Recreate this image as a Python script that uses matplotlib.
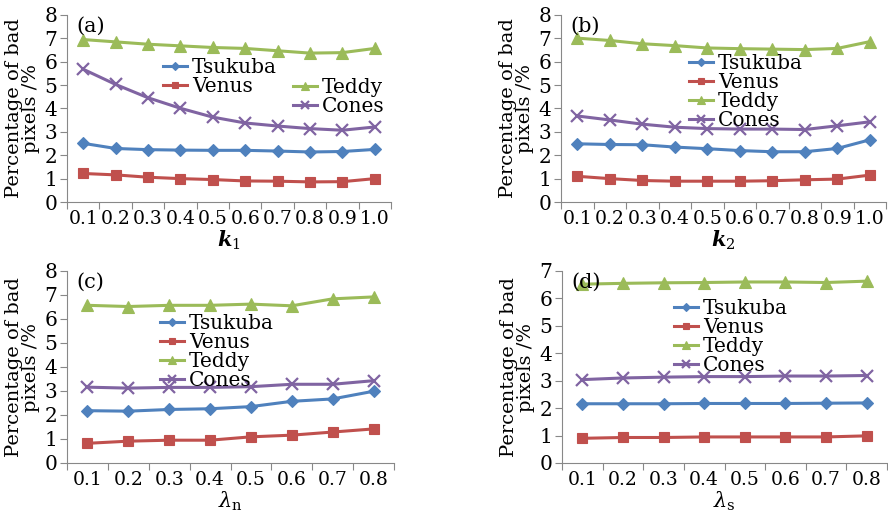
import matplotlib
matplotlib.use("Agg")
import matplotlib.pyplot as plt
import numpy as np

plt.rcParams['font.family'] = ['DejaVu Serif']
plt.rcParams['mathtext.fontset'] = 'dejavuserif'

series = ["Tsukuba", "Venus", "Teddy", "Cones"]

k_labels = ["0.1", "0.2", "0.3", "0.4", "0.5", "0.6", "0.7", "0.8", "0.9", "1.0"]
lam_labels = ["0.1", "0.2", "0.3", "0.4", "0.5", "0.6", "0.7", "0.8"]

a_tsukuba = [2.51, 2.29, 2.24, 2.22, 2.21, 2.21, 2.18, 2.14, 2.16, 2.25]
a_venus = [1.22, 1.16, 1.06, 1.00, 0.96, 0.90, 0.89, 0.86, 0.87, 1.00]
a_teddy = [6.95, 6.85, 6.75, 6.68, 6.61, 6.57, 6.47, 6.37, 6.39, 6.57]
a_cones = [5.68, 5.03, 4.46, 4.01, 3.63, 3.38, 3.25, 3.14, 3.07, 3.21]

b_tsukuba = [2.49, 2.46, 2.45, 2.35, 2.28, 2.20, 2.15, 2.15, 2.29, 2.66]
b_venus = [1.10, 1.00, 0.92, 0.89, 0.89, 0.89, 0.91, 0.95, 0.98, 1.15]
b_teddy = [7.01, 6.91, 6.77, 6.69, 6.59, 6.56, 6.54, 6.52, 6.57, 6.86]
b_cones = [3.68, 3.51, 3.33, 3.20, 3.14, 3.12, 3.12, 3.10, 3.26, 3.43]

c_tsukuba = [2.18, 2.16, 2.23, 2.26, 2.35, 2.57, 2.67, 2.99]
c_venus = [0.82, 0.91, 0.95, 0.95, 1.09, 1.16, 1.29, 1.42]
c_teddy = [6.57, 6.52, 6.57, 6.57, 6.62, 6.55, 6.84, 6.92]
c_cones = [3.16, 3.12, 3.15, 3.15, 3.18, 3.28, 3.28, 3.43]

d_tsukuba = [2.16, 2.16, 2.16, 2.17, 2.17, 2.17, 2.18, 2.19]
d_venus = [0.90, 0.93, 0.93, 0.95, 0.95, 0.95, 0.95, 0.99]
d_teddy = [6.52, 6.55, 6.57, 6.58, 6.60, 6.60, 6.58, 6.63]
d_cones = [3.04, 3.10, 3.13, 3.15, 3.15, 3.17, 3.17, 3.19]

colors = ["#4F81BD", "#C0504D", "#9BBB59", "#8064A2"]
markers = ["D", "s", "^", "x"]
msizes = [6, 7, 8, 8]

W, H = 888, 513
fig = plt.figure(figsize=(W / 100, H / 100), dpi=100)


def ax_rect(l, r, t, b):
    return [l / W, (H - b) / H, (r - l) / W, (b - t) / H]


panels = [
    dict(rect=ax_rect(67, 391, 15, 202), labels=k_labels, data=[a_tsukuba, a_venus, a_teddy, a_cones],
         ymax=8, xlabel=r'$\boldsymbol{k}_{1}$', tag="(a)"),
    dict(rect=ax_rect(561, 886, 15, 202), labels=k_labels, data=[b_tsukuba, b_venus, b_teddy, b_cones],
         ymax=8, xlabel=r'$\boldsymbol{k}_{2}$', tag="(b)"),
    dict(rect=ax_rect(67, 394, 271, 463), labels=lam_labels, data=[c_tsukuba, c_venus, c_teddy, c_cones],
         ymax=8, xlabel=r'$\lambda_{\mathrm{n}}$', tag="(c)"),
    dict(rect=ax_rect(562, 887, 271, 463), labels=lam_labels, data=[d_tsukuba, d_venus, d_teddy, d_cones],
         ymax=7, xlabel=r'$\lambda_{\mathrm{s}}$', tag="(d)"),
]

axes = []
for p in panels:
    ax = fig.add_axes(p["rect"])
    n = len(p["labels"])
    x = np.arange(n)
    handles = []
    for vals, c, m, ms, name in zip(p["data"], colors, markers, msizes, series):
        h, = ax.plot(x, vals, color=c, marker=m, markersize=ms, linewidth=2.2,
                     markeredgewidth=1.6 if m == "x" else 0.8, markeredgecolor=c, label=name)
        handles.append(h)
    ax.set_xlim(-0.5, n - 0.5)
    ax.set_ylim(0, p["ymax"])
    ax.set_yticks(range(0, p["ymax"] + 1))
    ax.set_xticks(np.arange(-0.5, n, 1.0))
    ax.set_xticklabels([])
    ax.set_xticks(x, minor=True)
    ax.set_xticklabels(p["labels"], minor=True)
    ax.tick_params(axis='x', which='major', length=5, direction='out', color='#888888')
    ax.tick_params(axis='x', which='minor', length=0, labelsize=13.5, pad=6)
    ax.tick_params(axis='y', length=5, direction='out', color='#888888', labelsize=14.5, pad=2)
    for s in ["top", "right"]:
        ax.spines[s].set_visible(False)
    for s in ["left", "bottom"]:
        ax.spines[s].set_color('#888888')
    ax.set_ylabel("Percentage of bad\npixels /%", fontsize=14, labelpad=3, linespacing=0.95)
    ax.set_xlabel(p["xlabel"], fontsize=15, labelpad=0)
    ax.text(0.03, 0.99, p["tag"], transform=ax.transAxes, fontsize=15, va='top', ha='left')
    axes.append((ax, handles))


def legend_at(ax, handles, xpx, ypx):
    leg = ax.legend(handles=handles, loc='upper left', bbox_to_anchor=(xpx / W, 1 - ypx / H),
                    bbox_transform=fig.transFigure, frameon=False, fontsize=14.5,
                    handlelength=1.2, handletextpad=0.25, labelspacing=0.0, borderpad=0,
                    borderaxespad=0, markerscale=0.65)
    return leg


ax, hs = axes[0]
l1 = legend_at(ax, hs[:2], 163, 58)
ax.add_artist(l1)
legend_at(ax, hs[2:], 293, 78)

ax, hs = axes[1]
legend_at(ax, hs, 689, 54)
ax, hs = axes[2]
legend_at(ax, hs, 160, 314)
ax, hs = axes[3]
legend_at(ax, hs, 674, 299)

fig.savefig("out.png", dpi=100)
